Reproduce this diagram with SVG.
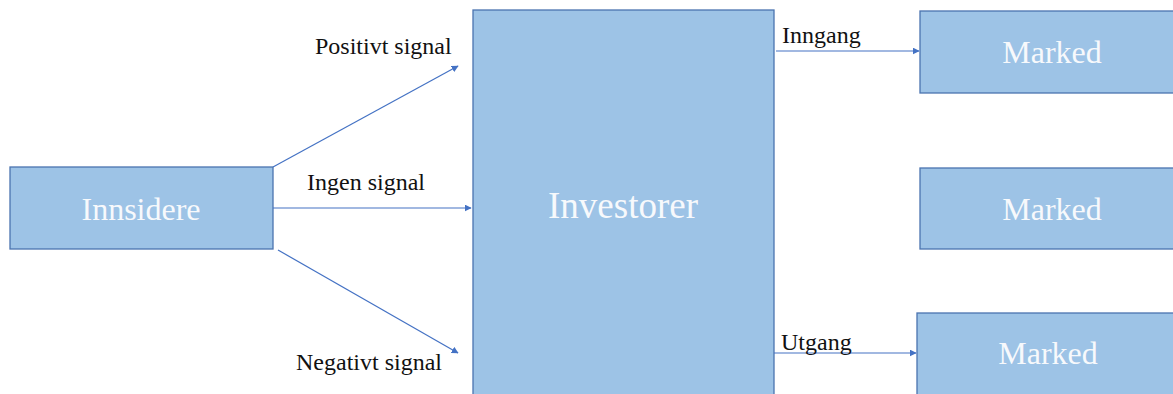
<svg xmlns="http://www.w3.org/2000/svg" width="1173" height="394" viewBox="0 0 1173 394">
<defs>
<style>
.box{fill:#9DC3E6;stroke:#4A73B0;stroke-width:1.3}
.nl{font-family:"Liberation Serif",serif;fill:#F7F9FC;text-anchor:middle}
.el{font-family:"Liberation Serif",serif;fill:#111111;font-size:24px}
.ln{stroke:#4472C4;stroke-width:1.2;fill:none;marker-end:url(#ah)}
</style>
<marker id="ah" viewBox="0 0 10 10" refX="9" refY="5" markerWidth="7" markerHeight="7" markerUnits="userSpaceOnUse" orient="auto"><path d="M0,0 L10,5 L0,10 z" fill="#4472C4"/></marker>
</defs>
<rect width="1173" height="394" fill="#FFFFFF"/>
<g id="innsidere"><rect class="box" x="10" y="167" width="263" height="82"/><text class="nl" x="141" y="220" font-size="32">Innsidere</text></g>
<g id="investorer"><rect class="box" x="473" y="10" width="301" height="400"/><text class="nl" x="623" y="218" font-size="37">Investorer</text></g>
<g id="marked1"><rect class="box" x="920" y="11" width="260" height="82"/><text class="nl" x="1052" y="63" font-size="32">Marked</text></g>
<g id="marked2"><rect class="box" x="920" y="168" width="260" height="81"/><text class="nl" x="1052" y="220" font-size="32">Marked</text></g>
<g id="marked3"><rect class="box" x="917" y="313" width="263" height="85"/><text class="nl" x="1048" y="364" font-size="32">Marked</text></g>
<g id="connectors">
<line class="ln" x1="273" y1="167" x2="458" y2="66"/>
<line class="ln" x1="273" y1="208" x2="471" y2="208"/>
<line class="ln" x1="278" y1="250" x2="458" y2="353"/>
<line class="ln" x1="776" y1="51" x2="919" y2="51"/>
<line class="ln" x1="774" y1="353" x2="916" y2="353"/>
<text class="el" x="315" y="54">Positivt signal</text>
<text class="el" x="307" y="190">Ingen signal</text>
<text class="el" x="296" y="370">Negativt signal</text>
<text class="el" x="782" y="43">Inngang</text>
<text class="el" x="781" y="350">Utgang</text>
</g>
</svg>
